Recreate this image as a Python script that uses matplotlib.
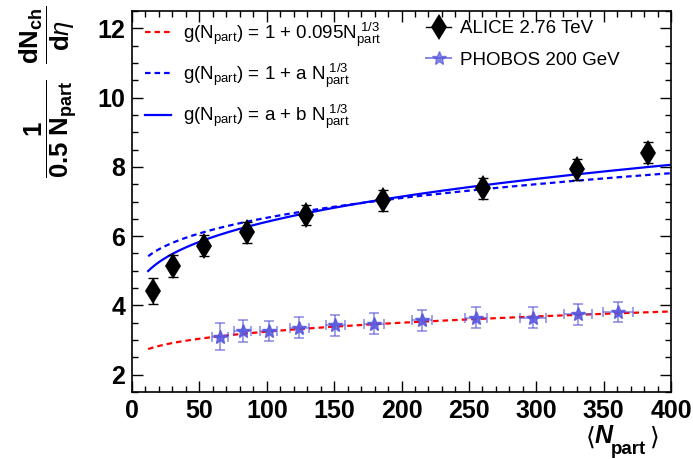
import numpy as np
import matplotlib
matplotlib.use("Agg")
import matplotlib.pyplot as plt
from matplotlib.lines import Line2D

plt.rcParams['font.family'] = ['Liberation Sans', 'DejaVu Sans']
plt.rcParams['mathtext.fontset'] = 'custom'
plt.rcParams['mathtext.rm'] = 'Liberation Sans'
plt.rcParams['mathtext.it'] = 'Liberation Sans:italic'
plt.rcParams['mathtext.bf'] = 'Liberation Sans:bold'
plt.rcParams['mathtext.sf'] = 'Liberation Sans'

# ALICE 2.76 TeV
alice_npart = [15.8, 30.2, 53.4, 85.0, 129.0, 186.0, 260.7, 330.0, 383.0]
alice_y = [4.41, 5.13, 5.72, 6.11, 6.61, 7.04, 7.38, 7.93, 8.41]
alice_yerr = [0.38, 0.32, 0.30, 0.30, 0.30, 0.30, 0.30, 0.30, 0.31]

# PHOBOS 200 GeV
phobos_npart = [65.3, 82.1, 101.4, 124.2, 150.9, 179.8, 215.0, 255.3, 297.4, 331.2, 360.9]
phobos_y = [3.10, 3.26, 3.26, 3.36, 3.42, 3.47, 3.57, 3.64, 3.64, 3.74, 3.81]
phobos_yerr = [0.38, 0.33, 0.30, 0.30, 0.30, 0.30, 0.30, 0.30, 0.30, 0.30, 0.30]
phobos_xerr = [6.0, 6.5, 6.5, 7.0, 7.0, 7.5, 7.5, 8.5, 9.5, 10.5, 11.0]

# fit curves y = A + B * Npart^(1/3)
red_A, red_B = 2.25, 0.2138
bdash_A, bdash_B = 4.34, 0.472
bsolid_A, bsolid_B = 3.61, 0.604
curve_range = (12, 400)

W, H = 693, 459
fig = plt.figure(figsize=(W / 100, H / 100), dpi=100)
ax = fig.add_axes([132 / W, 1 - 392 / H, 539 / W, 381 / H])

n = np.linspace(curve_range[0], curve_range[1], 400)
c = np.cbrt(n)
ax.plot(n, red_A + red_B * c, color='red', ls=(0, (2.5, 1.8)), lw=1.6)
ax.plot(n, bdash_A + bdash_B * c, color='blue', ls=(0, (2.5, 1.8)), lw=1.6)
ax.plot(n, bsolid_A + bsolid_B * c, color='blue', ls='-', lw=1.6)

ph_col = '#5555dd'
ax.errorbar(phobos_npart, phobos_y, yerr=phobos_yerr, xerr=phobos_xerr, fmt='none',
            ecolor=ph_col, alpha=0.55, elinewidth=1.4, capsize=3.5, capthick=1.4, zorder=3)
ax.plot(phobos_npart, phobos_y, ls='none', marker='*', ms=10, color=ph_col, alpha=0.85, zorder=4)

ax.errorbar(alice_npart, alice_y, yerr=alice_yerr, fmt='none', ecolor='black',
            elinewidth=1.0, capsize=3.5, capthick=1.0, zorder=5)
ax.plot(alice_npart, alice_y, ls='none', marker='d', ms=13, mew=0, color='black', zorder=6)

ax.set_xlim(0, 400)
ax.set_ylim(1.5, 12.5)
ax.set_xticks(np.arange(0, 401, 50))
ax.set_xticks(np.arange(0, 401, 10), minor=True)
ax.set_yticks(np.arange(2, 13, 2))
ax.set_yticks(np.arange(1.5, 12.6, 0.5), minor=True)
ax.tick_params(which='both', direction='in', top=True, right=True, width=1.0)
ax.tick_params(which='major', length=8, labelsize=18, pad=5)
ax.tick_params(which='minor', length=4)
for lab in ax.get_xticklabels() + ax.get_yticklabels():
    lab.set_fontweight('bold')
for s in ax.spines.values():
    s.set_linewidth(1.2)

# left legend (fit functions)
fit_handles = [
    Line2D([], [], color='red', ls=(0, (2.5, 1.8)), lw=1.6),
    Line2D([], [], color='blue', ls=(0, (2.5, 1.8)), lw=1.6),
    Line2D([], [], color='blue', ls='-', lw=1.6),
]
fit_labels = [
    r'g(N$_{\rm part}$) = 1 + 0.095N$_{\rm part}^{\ 1/3}$',
    r'g(N$_{\rm part}$) = 1 + a N$_{\rm part}^{\ 1/3}$',
    r'g(N$_{\rm part}$) = a + b N$_{\rm part}^{\ 1/3}$',
]
leg1 = ax.legend(fit_handles, fit_labels, loc='upper left', bbox_to_anchor=(0.0, 1.01),
                 frameon=False, fontsize=13.5, handlelength=1.4, handletextpad=0.6,
                 labelspacing=0.7, borderaxespad=0.3)
ax.add_artist(leg1)

data_handles = [
    Line2D([], [], color='black', marker='d', ms=13, mew=0, lw=1.0),
    Line2D([], [], color=ph_col, marker='*', ms=10, lw=1.4, alpha=0.7),
]
ax.legend(data_handles, ['ALICE 2.76 TeV', 'PHOBOS 200 GeV'], loc='upper left',
          bbox_to_anchor=(0.522, 1.01), frameon=False, fontsize=13.5, handlelength=1.3,
          handletextpad=0.5, labelspacing=0.75, borderaxespad=0.3)

# y label
ylab = (r'$\dfrac{\mathbf{1}}{\mathbf{0.5\ N_{part}}}\ \ '
        r'\dfrac{\mathbf{dN_{ch}}}{\mathbf{d}\eta}$')
fig.text(48 / W, 1 - 6 / H, ylab, rotation=90, ha='center', va='top', fontsize=18.5)

# x label
fig.text(586 / W, 1 - 445 / H, '\u27e8', fontsize=18, family=['DejaVu Sans'], ha='left', va='baseline')
fig.text(595 / W, 1 - 443 / H, 'N', fontsize=18, fontweight='bold', fontstyle='italic', ha='left', va='baseline')
fig.text(611 / W, 1 - 454 / H, 'part', fontsize=13.5, fontweight='bold', ha='left', va='baseline')
fig.text(650 / W, 1 - 445 / H, '\u27e9', fontsize=18, family=['DejaVu Sans'], ha='left', va='baseline')

fig.savefig('out.png', dpi=100)
